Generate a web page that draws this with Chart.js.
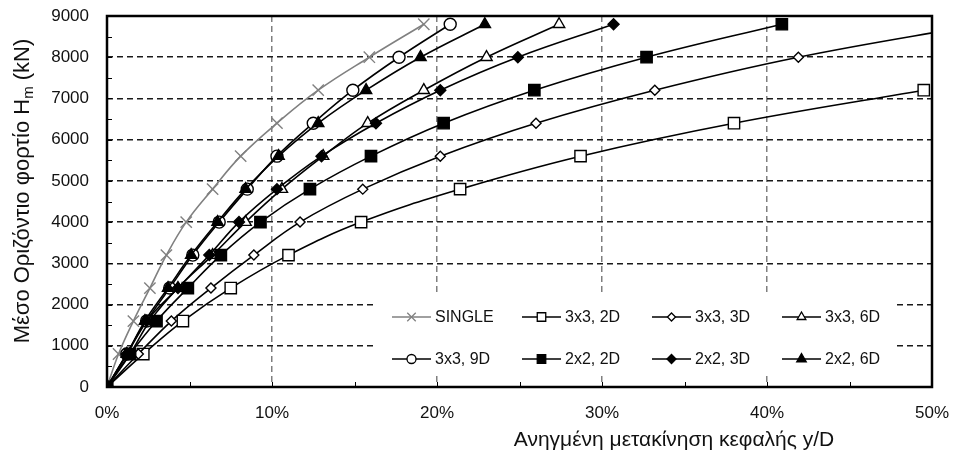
<!DOCTYPE html>
<html>
<head>
<meta charset="utf-8">
<script src="https://cdn.jsdelivr.net/npm/chart.js@4/dist/chart.umd.min.js"></script>
<style>
html,body{margin:0;padding:0;background:#fff;}
#wrap{width:958px;height:457px;}
</style>
</head>
<body>
<div id="wrap"><canvas id="c" width="958" height="457"></canvas></div>
<script>
// ---- data (x = y/D in %, y = load kN) ----
const loads = [0, 800, 1600, 2400, 3200, 4000, 4800, 5600, 6400, 7200, 8000, 8800];
const single  = [0, 0.7, 1.6, 2.6, 3.6, 4.8, 6.4, 8.1, 10.3, 12.8, 15.9, 19.2];
const g3x3_2D = [0, 2.2, 4.6, 7.5, 11.0, 15.4, 21.4, 28.7, 38.0, 49.5];
const g3x3_3D = [0, 1.9, 3.9, 6.3, 8.9, 11.7, 15.5, 20.2, 26.0, 33.2, 41.9, 53.0];
const g3x3_6D = [0, 1.4, 2.6, 4.3, 6.4, 8.4, 10.6, 13.1, 15.8, 19.2, 23.0, 27.4];
const g3x3_9D = [0, 1.2, 2.4, 3.8, 5.2, 6.8, 8.5, 10.3, 12.5, 14.9, 17.7, 20.8];
const g2x2_2D = [0, 1.4, 3.0, 4.9, 6.9, 9.3, 12.3, 16.0, 20.4, 25.9, 32.7, 40.9];
const g2x2_3D = [0, 1.2, 2.4, 4.3, 6.2, 8.0, 10.3, 13.0, 16.3, 20.2, 24.9, 30.7];
const g2x2_6D = [0, 1.2, 2.3, 3.7, 5.1, 6.7, 8.4, 10.4, 12.8, 15.7, 19.0, 22.9];
const seriesNames = ['SINGLE', '3x3, 2D', '3x3, 3D', '3x3, 6D', '3x3, 9D', '2x2, 2D', '2x2, 3D', '2x2, 6D'];
const xTickValues = [0, 10, 20, 30, 40, 50];
const yTickValues = [0, 1000, 2000, 3000, 4000, 5000, 6000, 7000, 8000, 9000];
const xTitle = 'Ανηγμένη μετακίνηση κεφαλής y/D';
const yTitleMain = 'Μέσο Οριζόντιο φορτίο H';
const yTitleSub = 'm';
const yTitleEnd = ' (kN)';

const seriesX = [single, g3x3_2D, g3x3_3D, g3x3_6D, g3x3_9D, g2x2_2D, g2x2_3D, g2x2_6D];
const styles = [
  {style:'crossRot', r:8,   fill:'#808080', col:'#808080', lr:6},
  {style:'rect',     r:8,   fill:'#ffffff', col:'#000000', lr:6},
  {style:'rectRot',  r:5,   fill:'#ffffff', col:'#000000', lr:4},
  {style:'triangle', r:6.5, fill:'#ffffff', col:'#000000', lr:5},
  {style:'circle',   r:6,   fill:'#ffffff', col:'#000000', lr:4.5},
  {style:'rect',     r:8,   fill:'#000000', col:'#000000', lr:6},
  {style:'rectRot',  r:5.5, fill:'#000000', col:'#000000', lr:4.5},
  {style:'triangle', r:6.5, fill:'#000000', col:'#000000', lr:5.5}
];

const FONT = "'Liberation Sans', Arial, sans-serif";

const datasets = seriesX.map((xs, i) => ({
  label: seriesNames[i],
  data: xs.map((x, k) => ({x: x, y: loads[k]})),
  borderColor: styles[i].col,
  backgroundColor: styles[i].fill,
  borderWidth: 1.6,
  tension: 0.4,
  pointStyle: styles[i].style,
  pointRadius: styles[i].r,
  pointHoverRadius: styles[i].r,
  pointBackgroundColor: styles[i].fill,
  pointBorderColor: styles[i].col,
  pointBorderWidth: 1.4,
  order: 10 - i
}));

function marker(ctx, style, x, y, r, fill, col) {
  ctx.save();
  ctx.beginPath();
  ctx.lineWidth = 1.3;
  ctx.strokeStyle = col;
  ctx.fillStyle = fill;
  if (style === 'circle') {
    ctx.arc(x, y, r, 0, Math.PI * 2);
  } else if (style === 'rect') {
    const s = r * Math.SQRT1_2;
    ctx.rect(x - s, y - s, 2 * s, 2 * s);
  } else if (style === 'rectRot') {
    ctx.moveTo(x - r, y); ctx.lineTo(x, y - r); ctx.lineTo(x + r, y); ctx.lineTo(x, y + r); ctx.closePath();
  } else if (style === 'triangle') {
    for (let k = 0; k < 3; k++) {
      const a = k * 2 * Math.PI / 3;
      const px = x + Math.sin(a) * r, py = y - Math.cos(a) * r;
      if (k === 0) ctx.moveTo(px, py); else ctx.lineTo(px, py);
    }
    ctx.closePath();
  } else if (style === 'crossRot') {
    const s = r * Math.SQRT1_2;
    ctx.moveTo(x - s, y - s); ctx.lineTo(x + s, y + s);
    ctx.moveTo(x + s, y - s); ctx.lineTo(x - s, y + s);
    ctx.stroke(); ctx.restore(); return;
  }
  ctx.fill(); ctx.stroke();
  ctx.restore();
}

const framePlugin = {
  id: 'frame',
  beforeDatasetsDraw(chart) {
    const ctx = chart.ctx;
    ctx.save();
    ctx.fillStyle = '#ffffff';
    ctx.fillRect(376, 293, 521, 82);
    ctx.restore();
  },
  afterDatasetsDraw(chart) {
    const ctx = chart.ctx, a = chart.chartArea, xs = chart.scales.x, ys = chart.scales.y;
    const colX = [392, 522, 652, 782];
    const rowY = [317, 359];
    ctx.save();
    ctx.font = '16px ' + FONT;
    ctx.textBaseline = 'middle';
    ctx.textAlign = 'left';
    for (let i = 0; i < 8; i++) {
      const cx = colX[i % 4], cy = rowY[Math.floor(i / 4)];
      const st = styles[i];
      ctx.beginPath();
      ctx.strokeStyle = st.col; ctx.lineWidth = 1.6;
      ctx.moveTo(cx, cy); ctx.lineTo(cx + 39, cy); ctx.stroke();
      marker(ctx, st.style, cx + 19.5, cy, st.lr, st.fill, st.col);
      ctx.fillStyle = '#111';
      ctx.fillText(seriesNames[i], cx + 43, cy + 1);
    }
    ctx.restore();
    ctx.save();
    ctx.strokeStyle = '#000'; ctx.lineWidth = 1;
    ctx.beginPath();
    for (let v = 500; v < 9000; v += 500) {
      const py = Math.round(ys.getPixelForValue(v)) + 0.5;
      ctx.moveTo(a.left, py); ctx.lineTo(a.left + 5, py);
    }
    for (let v = 5; v < 50; v += 5) {
      const px = Math.round(xs.getPixelForValue(v)) + 0.5;
      ctx.moveTo(px, a.bottom); ctx.lineTo(px, a.bottom - 5);
    }
    ctx.stroke();
    ctx.lineWidth = 2.5;
    ctx.strokeStyle = '#000';
    ctx.strokeRect(a.left, a.top, a.right - a.left, a.bottom - a.top);
    ctx.restore();
  },
  afterDraw(chart) {
    const ctx = chart.ctx;
    ctx.save();
    ctx.fillStyle = '#111';
    ctx.font = '21px ' + FONT;
    ctx.textAlign = 'center';
    ctx.textBaseline = 'middle';
    ctx.fillText(xTitle, 674, 440);
    ctx.translate(21, 191);
    ctx.rotate(-Math.PI / 2);
    const fMain = '22px ' + FONT, fSub = '15px ' + FONT;
    ctx.font = fMain;
    const w1 = ctx.measureText(yTitleMain).width;
    const w3 = ctx.measureText(yTitleEnd).width;
    ctx.font = fSub;
    const w2 = ctx.measureText(yTitleSub).width;
    const total = w1 + w2 + w3;
    let sx = -total / 2;
    ctx.textAlign = 'left';
    ctx.textBaseline = 'alphabetic';
    ctx.font = fMain;
    ctx.fillText(yTitleMain, sx, 8);
    sx += w1;
    ctx.font = fSub;
    ctx.fillText(yTitleSub, sx, 12);
    sx += w2;
    ctx.font = fMain;
    ctx.fillText(yTitleEnd, sx, 8);
    ctx.restore();
  }
};

function noPad(s) { s.paddingTop = 0; s.paddingBottom = 0; s.paddingLeft = 0; s.paddingRight = 0; }

new Chart(document.getElementById('c'), {
  type: 'line',
  data: { datasets: datasets },
  options: {
    responsive: false,
    animation: false,
    devicePixelRatio: 1,
    layout: { padding: { left: 0, top: 16, right: 26, bottom: 0 } },
    plugins: { legend: { display: false }, tooltip: { enabled: false } },
    scales: {
      x: {
        type: 'linear', min: 0, max: 50,
        afterBuildTicks: (s) => { s.ticks = xTickValues.map(v => ({value: v})); },
        afterFit: (s) => { s.height = 70; noPad(s); },
        border: { display: false, dash: [6, 4] },
        grid: {
          drawTicks: false,
          color: (c) => (c.tick && c.tick.value > 0 && c.tick.value < 50) ? '#7f7f7f' : 'rgba(0,0,0,0)',
          lineWidth: 1.5
        },
        ticks: {
          padding: 16, color: '#111', font: { family: FONT, size: 17 },
          maxRotation: 0, autoSkip: false,
          callback: (v) => v + '%'
        }
      },
      y: {
        type: 'linear', min: 0, max: 9000,
        afterBuildTicks: (s) => { s.ticks = yTickValues.map(v => ({value: v})); },
        afterFit: (s) => { s.width = 107; noPad(s); },
        border: { display: false, dash: [6, 4] },
        grid: {
          drawTicks: false,
          color: (c) => (c.tick && c.tick.value > 0 && c.tick.value < 9000) ? '#1a1a1a' : 'rgba(0,0,0,0)',
          lineWidth: 1.5
        },
        ticks: {
          padding: 18, color: '#111', font: { family: FONT, size: 17 },
          autoSkip: false,
          callback: (v) => String(v)
        }
      }
    }
  },
  plugins: [framePlugin]
});
</script>
</body>
</html>
